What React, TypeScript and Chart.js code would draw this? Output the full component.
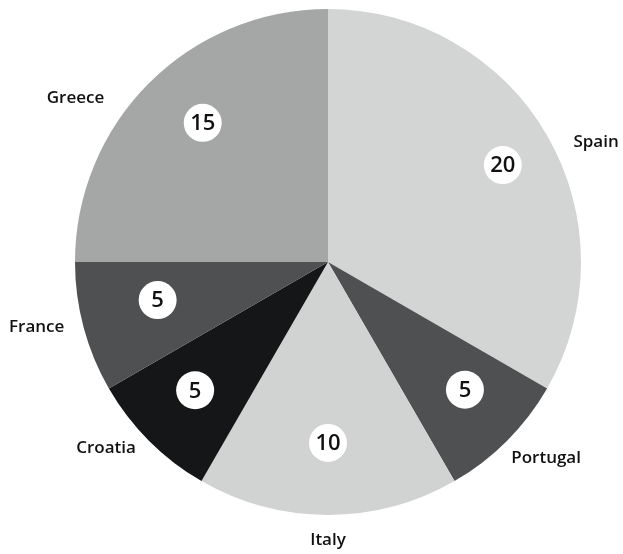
import React, { useEffect, useRef } from "react";
import { Chart, registerables } from "chart.js";

Chart.register(...registerables);

const countries = ["Spain", "Portugal", "Italy", "Croatia", "France", "Greece"];
const counts = [20, 5, 10, 5, 5, 15];
const sliceColors = ["#d3d4d4", "#4e5051", "#d1d2d2", "#141617", "#4e5051", "#a5a7a7"];

// placement tweaks (degrees offset from slice middle, distance as fraction of radius)
const labelShift = [6, -3, 0, 5, 2.4, -12];
const labelDist = [1.16, 1.16, 1.1, 1.145, 1.18, 1.19];
const valueShift = [1, -2, 0, 1, 2.4, 3];
const valueDist = [0.79, 0.74, 0.715, 0.73, 0.69, 0.74];

const pieLabels = {
  id: "pieLabels",
  afterDatasetsDraw(chart: any) {
    const ctx = chart.ctx;
    const meta = chart.getDatasetMeta(0);
    ctx.save();
    meta.data.forEach((arc: any, i: number) => {
      const { x, y, startAngle, endAngle, outerRadius } = arc.getProps(
        ["x", "y", "startAngle", "endAngle", "outerRadius"],
        true
      );
      const mid = (startAngle + endAngle) / 2;
      // value bubble
      const va = mid + (valueShift[i] * Math.PI) / 180;
      const vr = outerRadius * valueDist[i];
      const vx = x + Math.cos(va) * vr;
      const vy = y + Math.sin(va) * vr;
      ctx.beginPath();
      ctx.arc(vx, vy, 19, 0, Math.PI * 2);
      ctx.fillStyle = "#ffffff";
      ctx.fill();
      ctx.fillStyle = "#111111";
      ctx.font = "600 22px 'Open Sans', sans-serif";
      ctx.textAlign = "center";
      ctx.textBaseline = "middle";
      ctx.fillText(String(counts[i]), vx, vy + 1);
      // category label
      const la = mid + (labelShift[i] * Math.PI) / 180;
      const lr = outerRadius * labelDist[i];
      const lx = x + Math.cos(la) * lr;
      const ly = y + Math.sin(la) * lr;
      ctx.font = "600 17px 'Open Sans', sans-serif";
      ctx.fillText(countries[i], lx, ly);
    });
    ctx.restore();
  },
};

export default function App() {
  const ref = useRef<HTMLCanvasElement | null>(null);
  useEffect(() => {
    if (!ref.current) return;
    const chart = new Chart(ref.current, {
      type: "pie",
      data: {
        labels: countries,
        datasets: [
          {
            data: counts,
            backgroundColor: sliceColors,
            borderWidth: 0,
          },
        ],
      },
      options: {
        animation: false,
        responsive: false,
        layout: { padding: { left: 75, right: 42, top: 9, bottom: 39 } },
        plugins: {
          legend: { display: false },
          tooltip: { enabled: false },
        },
      },
      plugins: [pieLabels],
    });
    return () => chart.destroy();
  }, []);
  return (
    <div style={{ position: "absolute", left: 0, top: 0, width: 623, height: 554, background: "#ffffff" }}>
      <canvas ref={ref} width={623} height={554} />
    </div>
  );
}
